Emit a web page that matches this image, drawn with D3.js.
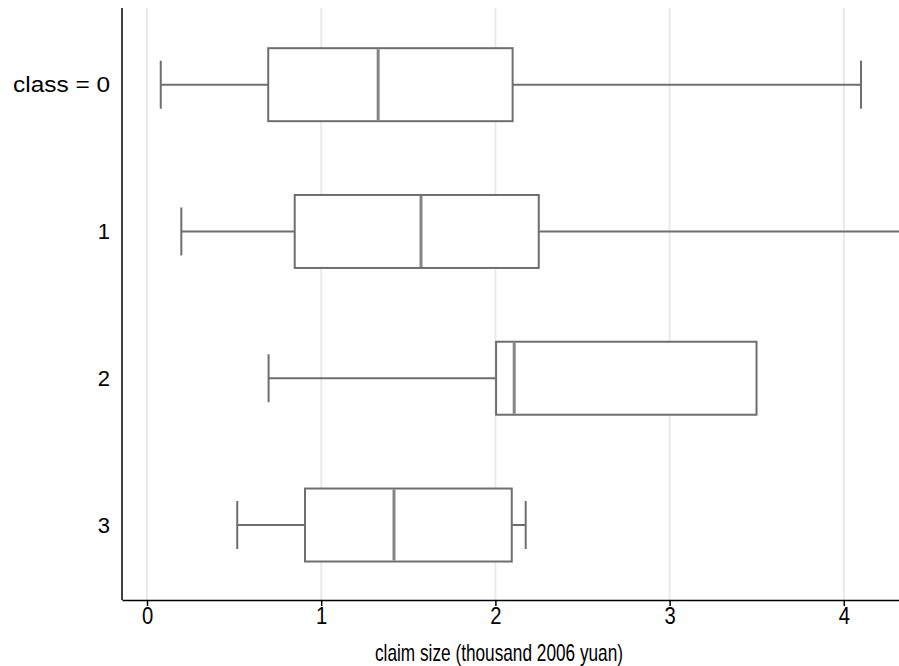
<!DOCTYPE html>
<html>
<head>
<meta charset="utf-8">
<script src="https://cdn.jsdelivr.net/npm/d3@7"></script>
<style>
  body { margin: 0; background: #fff; }
  text { font-family: "Liberation Sans", Helvetica, Arial, sans-serif; }
</style>
</head>
<body>
<div id="chart"></div>
<script>
const classes = ["class = 0", "1", "2", "3"]
const lowWhisker = [0.079, 0.197, 0.698, 0.518]
const q1 = [0.696, 0.848, 2.004, 0.907]
const median = [1.327, 1.573, 2.108, 1.418]
const q3 = [2.099, 2.249, 3.499, 2.094]
const highWhisker = [4.099, 4.7, 3.499, 2.174]
const xTicks = [0, 1, 2, 3, 4]

const
  width = 899,
  height = 666,
  margin = { top: 8, bottom: 66, left: 122, right: 0 };

const boxes = classes.map((c, i) => ({
  cls: c, lo: lowWhisker[i], q1: q1[i], med: median[i], q3: q3[i], hi: highWhisker[i]
}))

const svg = d3.select("#chart")
  .append("svg")
  .attr("width", width)
  .attr("height", height)

const x = d3.scaleLinear()
  .domain([-0.1435, 4.317])
  .range([margin.left, width - margin.right])

const y = d3.scalePoint()
  .domain(classes)
  .range([11.3, 598.4])
  .padding(0.5)

const boxH = 73, capH = 48

svg.append("defs").append("clipPath").attr("id", "plot")
  .append("rect")
  .attr("x", margin.left).attr("y", margin.top)
  .attr("width", width - margin.left - margin.right)
  .attr("height", height - margin.top - margin.bottom)

// grid
svg.append("g")
  .selectAll("line")
  .data(xTicks)
  .join("line")
  .attr("x1", d => x(d)).attr("x2", d => x(d))
  .attr("y1", margin.top).attr("y2", height - margin.bottom)
  .attr("stroke", "#eaeaea")
  .attr("stroke-width", 2)

const g = svg.append("g").attr("clip-path", "url(#plot)")
const col = "#6e6e6e"

// whiskers
g.selectAll(".wlo").data(boxes).join("line")
  .attr("x1", d => x(d.lo)).attr("x2", d => x(d.q1))
  .attr("y1", d => y(d.cls)).attr("y2", d => y(d.cls))
  .attr("stroke", col).attr("stroke-width", 2)
g.selectAll(".whi").data(boxes.filter(d => d.hi > d.q3)).join("line")
  .attr("x1", d => x(d.q3)).attr("x2", d => x(d.hi))
  .attr("y1", d => y(d.cls)).attr("y2", d => y(d.cls))
  .attr("stroke", col).attr("stroke-width", 2)

// caps
g.selectAll(".clo").data(boxes).join("line")
  .attr("x1", d => x(d.lo)).attr("x2", d => x(d.lo))
  .attr("y1", d => y(d.cls) - capH / 2).attr("y2", d => y(d.cls) + capH / 2)
  .attr("stroke", col).attr("stroke-width", 2)
g.selectAll(".chi").data(boxes.filter(d => d.hi > d.q3)).join("line")
  .attr("x1", d => x(d.hi)).attr("x2", d => x(d.hi))
  .attr("y1", d => y(d.cls) - capH / 2).attr("y2", d => y(d.cls) + capH / 2)
  .attr("stroke", col).attr("stroke-width", 2)

// boxes
g.selectAll(".box").data(boxes).join("rect")
  .attr("x", d => x(d.q1))
  .attr("width", d => x(d.q3) - x(d.q1))
  .attr("y", d => y(d.cls) - boxH / 2)
  .attr("height", boxH)
  .attr("fill", "#fff")
  .attr("stroke", col).attr("stroke-width", 2)

// medians
g.selectAll(".med").data(boxes).join("line")
  .attr("x1", d => x(d.med)).attr("x2", d => x(d.med))
  .attr("y1", d => y(d.cls) - boxH / 2 + 1).attr("y2", d => y(d.cls) + boxH / 2 - 1)
  .attr("stroke", "#858585").attr("stroke-width", 3)

// axes
const xAxis = svg.append("g")
  .attr("transform", `translate(0,${height - margin.bottom})`)
  .call(d3.axisBottom(x).tickValues(xTicks).tickSize(6).tickSizeOuter(0).tickPadding(2).tickFormat(d3.format("d")))
xAxis.select(".domain").attr("stroke", "#000").attr("stroke-width", 1.5)
xAxis.selectAll(".tick line").attr("stroke", "#000").attr("stroke-width", 1.5)
xAxis.selectAll(".tick text").style("font-size", "23px").attr("fill", "#000")
  .attr("transform", "scale(0.88,1)")

const yAxis = svg.append("g")
  .attr("transform", `translate(${margin.left},0)`)
  .call(d3.axisLeft(y).tickSize(0).tickPadding(12))
yAxis.select(".domain").attr("stroke", "#000").attr("stroke-width", 1.5)
  .attr("d", `M0,${margin.top}V${height - margin.bottom}`)
yAxis.selectAll(".tick text").style("font-size", "22px").attr("fill", "#000")
  .filter(d => d === "class = 0")
  .attr("textLength", 97).attr("lengthAdjust", "spacingAndGlyphs")

svg.append("text")
  .attr("x", 499)
  .attr("y", 661)
  .attr("text-anchor", "middle")
  .style("font-size", "24px")
  .attr("textLength", 248).attr("lengthAdjust", "spacingAndGlyphs")
  .text("claim size (thousand 2006 yuan)")
</script>
</body>
</html>
